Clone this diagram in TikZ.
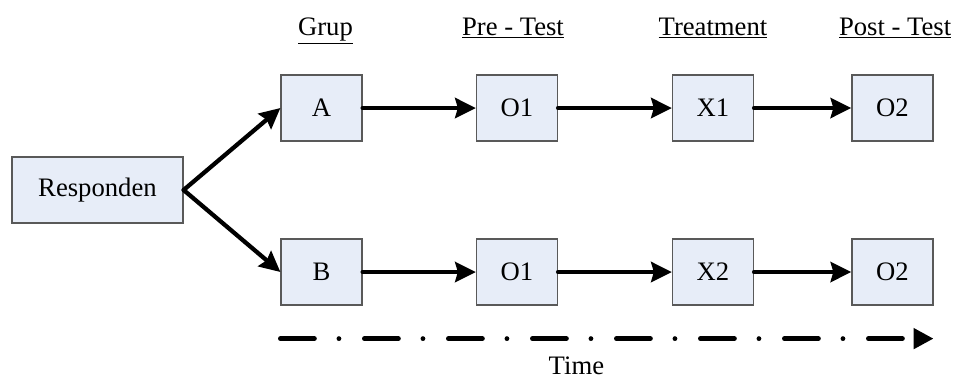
\documentclass[tikz,border=0pt]{standalone}
\usepackage{fontspec}
\setmainfont{Liberation Serif}
\usetikzlibrary{arrows.meta,positioning}
\definecolor{boxfill}{RGB}{231,237,248}

\begin{document}
\begin{tikzpicture}[->,>={Stealth[length=15.5pt,width=15pt,inset=2pt]},line cap=round,on grid,
  font=\fontsize{20}{24}\selectfont,
  blok/.style={draw=black!65,line width=0.9pt,fill=boxfill,minimum width=60.75pt,minimum height=49.5pt,inner sep=0pt},
  judul/.style={inner sep=0pt,text height=14pt,text depth=0pt}]
\useasboundingbox (-73.125pt,-142.5pt) rectangle (646.125pt,142.5pt);

\node[blok,minimum width=128.25pt] (resp) {Responden};
\node[blok] (A)  [above right=61.5pt and 168pt of resp] {A};
\node[blok] (O1a) [right=146.6pt of A]   {O1};
\node[blok] (X1) [right=147pt of O1a]    {X1};
\node[blok] (O2a) [right=134.6pt of X1]  {O2};
\node[blok] (B)  [below right=61.5pt and 168pt of resp] {B};
\node[blok] (O1b) [right=146.6pt of B]   {O1};
\node[blok] (X2) [right=147pt of O1b]    {X2};
\node[blok] (O2b) [right=134.6pt of X2]  {O2};

% column titles
\node[judul] (grup)  [above=61.5pt of A,xshift=3pt]   {\underline{Grup}};
\node[judul] (pre)   [above=61.5pt of O1a,xshift=-3pt] {\underline{Pre - Test}};
\node[judul] (treat) [above=61.5pt of X1]  {\underline{Treatment}};
\node[judul] (post)  [above=61.5pt of O2a,xshift=2pt] {\underline{Post - Test}};

\path[line width=3.2pt]
(resp.east) edge (A.west)
            edge (B.west)
(A)   edge (O1a)
(O1a) edge (X1)
(X1)  edge (O2a)
(B)   edge (O1b)
(O1b) edge (X2)
(X2)  edge (O2b)
;

% time axis
\coordinate (t0) at ([yshift=-24.75pt]B.south west);
\coordinate (t1) at (O2b.east |- t0);
\draw[-{Triangle[length=15pt,width=15pt]},line width=3.6pt,
  dash pattern=on 25.5pt off 18.4pt on 0pt off 19.1pt] (t0) -- (t1);
\node[judul,anchor=base] (time) at ([xshift=222pt,yshift=-27pt]t0) {Time};
\end{tikzpicture}
\end{document}
